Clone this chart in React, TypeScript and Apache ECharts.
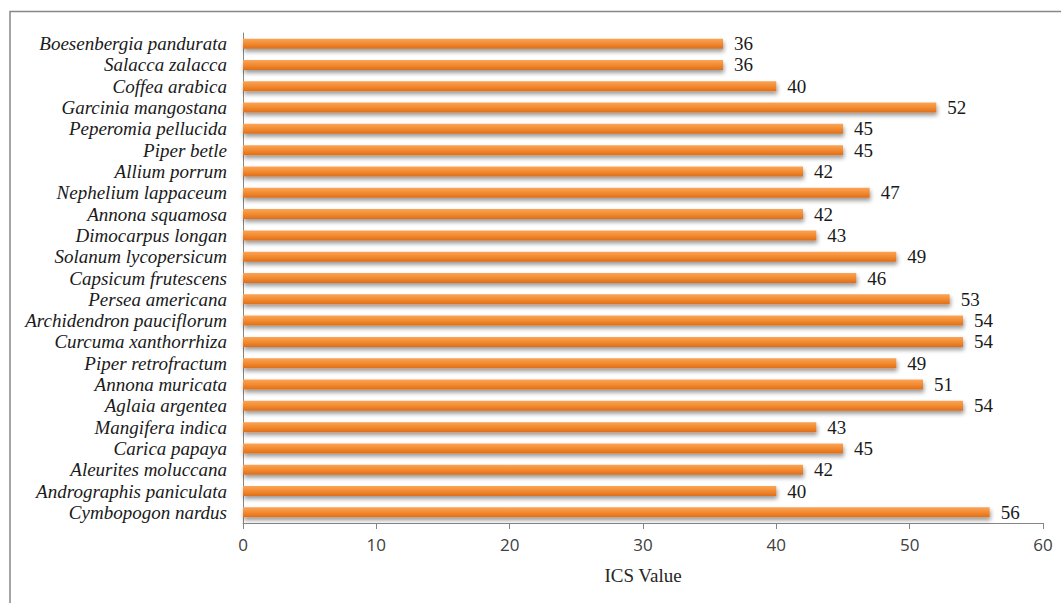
import React, { useEffect, useRef } from "react";
import * as echarts from "echarts";

const categories = [
  "Boesenbergia pandurata",
  "Salacca zalacca",
  "Coffea arabica",
  "Garcinia mangostana",
  "Peperomia pellucida",
  "Piper betle",
  "Allium porrum",
  "Nephelium lappaceum",
  "Annona squamosa",
  "Dimocarpus longan",
  "Solanum lycopersicum",
  "Capsicum frutescens",
  "Persea americana",
  "Archidendron pauciflorum",
  "Curcuma xanthorrhiza",
  "Piper retrofractum",
  "Annona muricata",
  "Aglaia argentea",
  "Mangifera indica",
  "Carica papaya",
  "Aleurites moluccana",
  "Andrographis paniculata",
  "Cymbopogon nardus",
];

const icsValues = [36, 36, 40, 52, 45, 45, 42, 47, 42, 43, 49, 46, 53, 54, 54, 49, 51, 54, 43, 45, 42, 40, 56];

const xTicks = { min: 0, max: 60, interval: 10 };
const xAxisName = "ICS Value";

const SERIF = "'Liberation Serif', 'Times New Roman', serif";

export default function App() {
  const ref = useRef<HTMLDivElement>(null);
  useEffect(() => {
    document.body.style.margin = "0";
    const chart = echarts.init(ref.current!, null, { renderer: "svg" });
    chart.setOption({
      animation: false,
      backgroundColor: "#ffffff",
      graphic: [
        {
          type: "rect",
          shape: { x: 10, y: 11.5, width: 1200, height: 800 },
          style: { fill: "none", stroke: "#868686", lineWidth: 1.5 },
          silent: true,
        },
      ],
      grid: { left: 243, right: 18, top: 33, bottom: 80, containLabel: false },
      xAxis: {
        type: "value",
        min: xTicks.min,
        max: xTicks.max,
        interval: xTicks.interval,
        name: xAxisName,
        nameLocation: "middle",
        nameGap: 43,
        nameTextStyle: { fontFamily: SERIF, fontSize: 19, color: "#262626" },
        axisLine: { show: true, lineStyle: { color: "#868686", width: 1 } },
        axisTick: { show: true, length: 6, lineStyle: { color: "#868686" } },
        splitLine: { show: false },
        axisLabel: { fontFamily: "'Open Sans', sans-serif", fontSize: 17, color: "#404040", margin: 13 },
      },
      yAxis: {
        type: "category",
        inverse: true,
        data: categories,
        axisLine: { show: true, lineStyle: { color: "#868686", width: 1 } },
        axisTick: { show: false },
        axisLabel: {
          interval: 0,
          fontFamily: SERIF,
          fontStyle: "italic",
          fontSize: 19,
          color: "#1a1a1a",
          margin: 16,
        },
      },
      series: [
        {
          type: "bar",
          data: icsValues,
          barWidth: 10,
          itemStyle: {
            color: new echarts.graphic.LinearGradient(0, 0, 0, 1, [
              { offset: 0, color: "#FBA458" },
              { offset: 0.5, color: "#F28B30" },
              { offset: 1, color: "#DE6E1C" },
            ]),
            shadowColor: "rgba(0,0,0,0.4)",
            shadowBlur: 4,
            shadowOffsetY: 3,
            shadowOffsetX: 1,
          },
          label: {
            show: true,
            position: "right",
            distance: 11,
            fontFamily: SERIF,
            fontSize: 19,
            color: "#1a1a1a",
          },
        },
      ],
    });
    return () => chart.dispose();
  }, []);
  return <div ref={ref} style={{ width: 1061, height: 603 }} />;
}
